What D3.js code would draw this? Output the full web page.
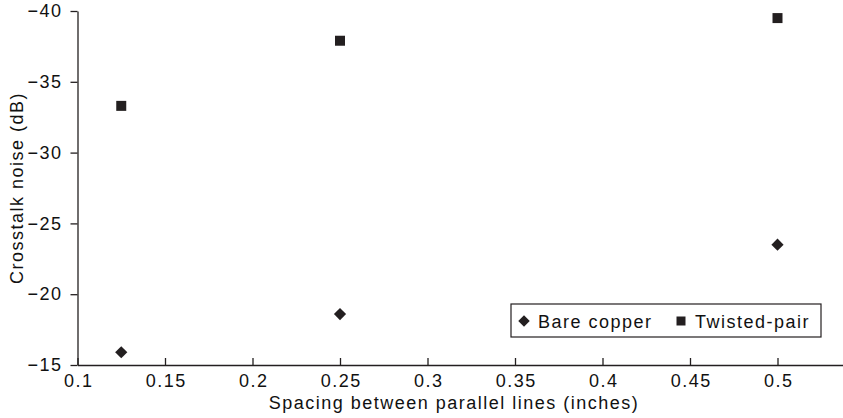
<!DOCTYPE html>
<html>
<head>
<meta charset="utf-8">
<script src="https://cdn.jsdelivr.net/npm/d3@7"></script>
<style>
  body { margin: 0; background: #fff; }
  svg { display: block; font-family: "Liberation Sans", Arial, sans-serif; }
</style>
</head>
<body>
<svg id="chart" width="843" height="418"></svg>
<script>
// spacing between parallel lines (inches)
const spacing = [0.125, 0.25, 0.5];
const bareCopper = [-15.9, -18.6, -23.5];
const twistedPair = [-33.3, -37.9, -39.5];
const xTicks = [0.1, 0.15, 0.2, 0.25, 0.3, 0.35, 0.4, 0.45, 0.5];
const yTicks = [-15, -20, -25, -30, -35, -40];
const seriesNames = ['Bare copper', 'Twisted-pair'];

const ink = '#231f20';
const fontSize = 18;
const tracking = '1.5px';

const svg = d3.select('#chart');

const x = d3.scaleLinear().domain([0.1, 0.54]).range([77.5, 847.5]);
const y = d3.scaleLinear().domain([-15, -40]).range([365, 11]);

const styleText = sel => sel
    .attr('fill', '#111')
    .style('font-size', fontSize + 'px')
    .style('letter-spacing', tracking)
    .style('font-family', '"Liberation Sans", Arial, sans-serif');

const xAxis = svg.append('g')
    .attr('transform', `translate(0,${y(-15)})`)
    .call(d3.axisBottom(x)
        .tickValues(xTicks)
        .tickFormat(d3.format('~g'))
        .tickSizeInner(-7)
        .tickSizeOuter(0)
        .tickPadding(9));

const yAxis = svg.append('g')
    .attr('transform', `translate(${x(0.1)},0)`)
    .call(d3.axisLeft(y)
        .tickValues(yTicks)
        .tickSizeInner(7)
        .tickSizeOuter(0)
        .tickPadding(8));

[xAxis, yAxis].forEach(ax => {
    ax.selectAll('path, line').attr('stroke', ink).attr('stroke-width', 1.3);
    ax.selectAll('text').call(styleText);
});
// letter-spacing leaves a gap after the last glyph; nudge x labels to stay centred
xAxis.selectAll('.tick text').attr('dx', '0.75px');

svg.append('text')
    .attr('x', 454)
    .attr('y', 409)
    .attr('text-anchor', 'middle')
    .call(styleText)
    .text('Spacing between parallel lines (inches)');

svg.append('text')
    .attr('transform', `translate(23,${(y(-15) + y(-40)) / 2}) rotate(-90)`)
    .attr('text-anchor', 'middle')
    .call(styleText)
    .text('Crosstalk noise (dB)');

const diamond = d3.symbol().type(d3.symbolDiamond2).size(95);
const square = d3.symbol().type(d3.symbolSquare).size(100);

svg.append('g').selectAll('path')
    .data(spacing.map((s, i) => [s, bareCopper[i]]))
    .join('path')
    .attr('d', diamond)
    .attr('fill', ink)
    .attr('transform', d => `translate(${x(d[0])},${y(d[1])})`);

svg.append('g').selectAll('path')
    .data(spacing.map((s, i) => [s, twistedPair[i]]))
    .join('path')
    .attr('d', square)
    .attr('fill', ink)
    .attr('transform', d => `translate(${x(d[0])},${y(d[1])})`);

// legend
const legend = svg.append('g').attr('transform', 'translate(511,304)');
legend.append('rect')
    .attr('width', 310).attr('height', 33)
    .attr('fill', '#fff').attr('stroke', ink).attr('stroke-width', 1.2);

const items = [
    { name: seriesNames[0], sym: d3.symbol().type(d3.symbolDiamond2).size(85), sx: 13, tx: 27 },
    { name: seriesNames[1], sym: d3.symbol().type(d3.symbolSquare).size(81), sx: 170, tx: 184 }
];
items.forEach(it => {
    legend.append('path')
        .attr('d', it.sym)
        .attr('fill', ink)
        .attr('transform', `translate(${it.sx},17)`);
    legend.append('text')
        .attr('x', it.tx).attr('y', 23.5)
        .call(styleText)
        .text(it.name);
});
</script>
</body>
</html>
